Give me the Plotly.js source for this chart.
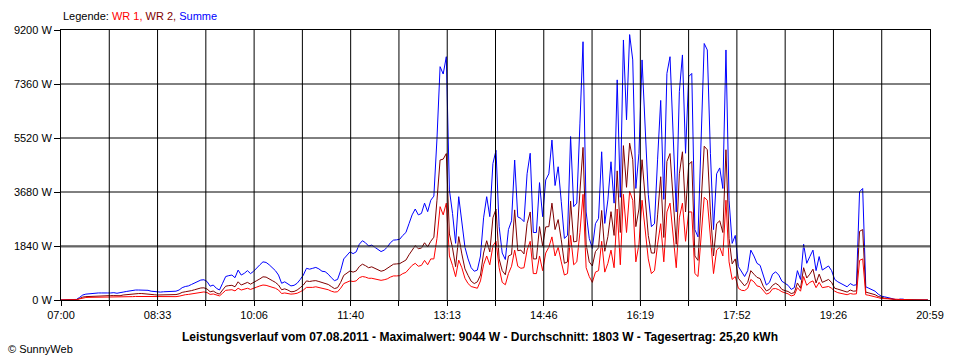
<!DOCTYPE html>
<html>
<head>
<meta charset="utf-8">
<script src="https://cdn.plot.ly/plotly-3.0.1.min.js"></script>
<style>
html,body{margin:0;padding:0;background:#ffffff;}
#chart{width:960px;height:360px;}
</style>
</head>
<body>
<div id="chart"></div>
<script>
// ---- data (3-minute samples starting 07:00) ----
const seriesNames = ['WR 1', 'WR 2', 'Summe'];
const seriesColors = ['#ff0000', '#800000', '#0000ff'];
const startMinute = 420;
const stepMinutes = 3;

const wr1 = [
  0,0,0,0,0,8,40,70,85,90,
  90,100,95,95,90,95,90,100,90,95,
  100,105,110,115,120,120,120,115,115,105,
  110,100,100,105,105,110,115,115,130,160,
  180,190,210,230,260,270,275,255,190,205,
  160,140,230,330,340,350,310,400,340,360,
  400,360,390,440,480,510,500,470,440,400,
  340,220,240,220,200,210,230,280,340,430,
  420,430,450,430,390,390,350,300,270,280,
  400,560,610,650,630,650,760,800,780,740,
  740,720,690,670,690,720,780,820,820,830,
  900,940,1060,1180,1250,1150,1180,1350,1200,1400,
  1400,2100,3180,2900,3300,1500,1180,795,1360,1100,
  740,560,460,420,400,650,1200,1500,1200,1850,
  2000,1100,600,520,900,1150,1700,1150,1080,1100,
  1700,2000,900,900,1500,1000,1600,1800,2150,1500,
  1800,1300,850,900,2200,1200,1300,2300,3600,1100,
  800,600,950,1000,2000,950,1250,1700,1100,3100,
  1200,3600,2300,3700,3400,1300,1900,3400,2400,1400,
  900,1000,1900,2600,1300,3000,3300,2200,1100,2800,
  3300,2000,3000,3000,900,800,2200,3500,3400,2000,
  900,1700,1800,1500,3400,1300,700,800,400,330,
  320,400,700,620,480,450,330,200,240,380,
  390,350,280,240,210,140,170,420,300,800,
  500,600,650,420,600,420,450,460,400,300,
  250,230,200,180,220,200,210,1350,1400,180,
  160,140,120,80,50,45,35,25,14,0,
  12,12,0,0,0,0,0,0,0,0
];

const wr2 = [
  0,0,0,0,0,12,50,100,115,120,
  140,150,145,145,140,145,150,150,140,145,
  170,185,200,215,220,220,220,215,215,195,
  180,170,170,175,175,180,185,185,210,260,
  280,290,320,350,390,410,415,375,280,305,
  240,200,340,470,490,500,450,620,510,550,
  600,540,590,660,720,790,780,730,660,600,
  510,350,380,340,280,290,340,420,510,650,
  630,650,660,630,590,575,530,460,390,420,
  600,840,930,990,950,990,1140,1220,1170,1100,
  1130,1080,1010,980,1010,1080,1170,1220,1230,1240,
  1300,1360,1540,1720,1850,1750,1770,1950,1810,2000,
  2140,3400,4770,4800,4990,2250,1770,1136,2160,1570,
  1060,840,640,560,620,850,1600,2020,1640,2800,
  3100,1400,1000,860,1500,1550,3070,1680,1700,1570,
  2600,3000,1400,1400,2500,1840,2490,2500,3300,2400,
  2740,2050,1250,1300,3370,1980,2000,3700,5200,1900,
  1300,1160,1650,1780,3050,1660,2160,3010,2200,4400,
  2300,5260,3840,5344,4780,2500,3100,4780,3390,2200,
  1600,1600,2900,4200,2130,4720,4990,3590,1900,4300,
  5050,3000,4610,4720,1500,1350,3300,5240,5120,3000,
  1500,2600,2700,2300,5120,2100,1230,1400,740,620,
  480,600,1000,880,770,730,470,310,360,500,
  570,500,360,320,290,220,250,580,400,1100,
  750,880,1050,580,880,600,650,700,600,400,
  370,340,300,270,340,300,310,2340,2400,270,
  240,210,180,120,80,65,55,35,20,0,
  18,18,0,0,0,0,0,0,0,0
];

const yTickValues = [0, 1840, 3680, 5520, 7360, 9200];
const yTickLabels = ['0 W', '1840 W', '3680 W', '5520 W', '7360 W', '9200 W'];
const xTickLabels = ['07:00','','08:33','','10:06','','11:40','','13:13','','14:46','','16:19','','17:52','','19:26','','20:59'];
const xStart = 420;   // 07:00 in minutes
const xEnd = 1259;    // 20:59 in minutes
const durchschnitt = 1803;

const legendText = 'Legende: ';
const titleText = 'Leistungsverlauf vom 07.08.2011 - Maximalwert: 9044 W - Durchschnitt: 1803 W - Tagesertrag: 25,20 kWh';
const copyrightText = '\u00A9 SunnyWeb';

// ---- build ----
const times = wr1.map((_, i) => startMinute + i * stepMinutes);
const summe = wr1.map((v, i) => v + wr2[i]);
const xTickValues = xTickLabels.map((_, i) => xStart + i * (xEnd - xStart) / (xTickLabels.length - 1));

const FONT = 'Liberation Sans, Arial, Helvetica, sans-serif';

const traces = [
  {x: times, y: summe, name: seriesNames[2], type: 'scatter', mode: 'lines', line: {color: seriesColors[2], width: 1}},
  {x: times, y: wr2, name: seriesNames[1], type: 'scatter', mode: 'lines', line: {color: seriesColors[1], width: 1}},
  {x: times, y: wr1, name: seriesNames[0], type: 'scatter', mode: 'lines', line: {color: seriesColors[0], width: 1}}
];

const shapes = [];
shapes.push({type: 'line', xref: 'paper', yref: 'y', x0: 0, x1: 1, y0: durchschnitt, y1: durchschnitt,
             line: {color: '#808080', width: 1}, layer: 'above'});
xTickValues.slice(1, -1).forEach(v => shapes.push({
  type: 'line', xref: 'x', yref: 'paper', x0: v, x1: v, y0: 0, y1: 1,
  line: {color: '#000000', width: 1}, layer: 'above'}));
yTickValues.slice(1, -1).forEach(v => shapes.push({
  type: 'line', xref: 'paper', yref: 'y', x0: 0, x1: 1, y0: v, y1: v,
  line: {color: '#000000', width: 1}, layer: 'above'}));

const legendHtml = legendText +
  '<span style="color:' + seriesColors[0] + '">' + seriesNames[0] + ',</span> ' +
  '<span style="color:' + seriesColors[1] + '">' + seriesNames[1] + ',</span> ' +
  '<span style="color:' + seriesColors[2] + '">' + seriesNames[2] + '</span>';

const layout = {
  width: 960, height: 360,
  margin: {l: 61, r: 30, t: 30, b: 60, pad: 0},
  paper_bgcolor: '#ffffff', plot_bgcolor: '#ffffff',
  showlegend: false,
  font: {family: FONT, size: 11, color: '#000000'},
  title: {
    text: titleText,
    font: {family: FONT, size: 12, color: '#000000', weight: 'bold'},
    x: 0.5, xref: 'container', xanchor: 'center',
    y: 1 - 337 / 360, yref: 'container', yanchor: 'middle'
  },
  xaxis: {
    range: [xStart, xEnd], fixedrange: true,
    tickmode: 'array', tickvals: xTickValues, ticktext: xTickLabels,
    showgrid: false, zeroline: false,
    showline: true, linecolor: '#000000', linewidth: 1, mirror: true,
    ticks: 'outside', ticklen: 5, tickwidth: 1, tickcolor: '#000000',
    tickfont: {family: FONT, size: 11, color: '#000000'}
  },
  yaxis: {
    range: [0, 9200], fixedrange: true,
    tickmode: 'array', tickvals: yTickValues, ticktext: yTickLabels,
    showgrid: false, zeroline: false,
    showline: true, linecolor: '#000000', linewidth: 1, mirror: true,
    ticks: 'outside', ticklen: 6, tickwidth: 1, tickcolor: '#000000',
    tickfont: {family: FONT, size: 11, color: '#000000'}
  },
  shapes: shapes,
  annotations: [
    {text: legendHtml, xref: 'paper', yref: 'paper', x: 0, y: 1, xanchor: 'left', yanchor: 'middle',
     yshift: 14, showarrow: false, font: {family: FONT, size: 11, color: '#000000'}},
    {text: copyrightText, xref: 'paper', yref: 'paper', x: (6 - 61) / 869, y: (300 - 349) / 270,
     xanchor: 'left', yanchor: 'middle', showarrow: false, font: {family: FONT, size: 11, color: '#000000'}}
  ]
};

Plotly.newPlot('chart', traces, layout, {staticPlot: true, displayModeBar: false});
</script>
</body>
</html>
